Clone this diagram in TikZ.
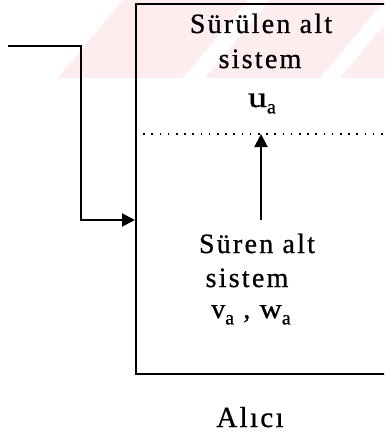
\documentclass[tikz,border=0pt]{standalone}
\usepackage{fontspec}
\setmainfont{Liberation Serif}[LetterSpace=8]
\newfontfamily\labelfont{Liberation Serif}[LetterSpace=8, FakeBold=0.8]
\usetikzlibrary{arrows.meta}
\definecolor{stripepink}{RGB}{254,237,239}
\tikzset{
  label/.style={anchor=base, inner sep=0pt, font=\labelfont\fontsize{28}{32}\selectfont},
  heavy/.style={line width=1.9pt},
  tip/.style={-{Triangle[length=13pt,width=13pt]}},
}
\newcommand{\subsc}[1]{\raisebox{-0.5ex}{\fontsize{20}{20}\selectfont #1}}
\begin{document}
\begin{tikzpicture}[x=1pt,y=-1pt]
\useasboundingbox (0,0) rectangle (384,436);
\begin{scope}
  \clip (0,0) rectangle (384,436);
  % light diagonal band across the top
  \fill[stripepink] (58,78) -- (183,78) -- (248,0) -- (123,0) -- cycle;
  \fill[stripepink] (205,78) -- (320,78) -- (385,0) -- (270,0) -- cycle;
  \fill[stripepink] (340,78) -- (470,78) -- (535,0) -- (405,0) -- cycle;
  % receiver box (right side runs past the frame)
  \node[draw, line width=1.6pt, anchor=north west, inner sep=0pt,
        minimum width=280pt, minimum height=370pt] (alici) at (135,3) {};
\end{scope}

% separation between the two subsystems
\coordinate (sepL) at (135,134);
\coordinate (sepR) at (384,134);
\draw[line width=1.3pt, dash pattern=on 1.6pt off 6.6pt] (sepL) -- (sepR);

% texts
\node[label] (drivenA) at (261,33) {Sürülen alt};
\node[label] (drivenB) at (260,68) {sistem};
\node[label] (ua) at (262,107) {\scalebox{1.35}[1.05]{u}\subsc{a}};
\node[label] (driveA) at (257,253) {Süren alt};
\node[label] (driveB) at (247,287) {sistem};
\node[label] (vw) at (251,318) {v\subsc{a} , \scalebox{1.1}[1]{w}\subsc{a}};
\node[label, font=\labelfont\fontsize{29}{33}\selectfont] (name) at (250,427) {Alıcı};

% drive signal going up to the driven subsystem
\coordinate (upS) at (261,220);
\coordinate (upE) at (261,134);
\draw[heavy, tip] (upS) -- (upE);

% incoming signal
\coordinate (in) at (8,46);
\coordinate (bend) at (81,46);
\coordinate (entry) at (135,220);
\draw[heavy, tip] (in) -- (bend) |- (entry);
\end{tikzpicture}
\end{document}
